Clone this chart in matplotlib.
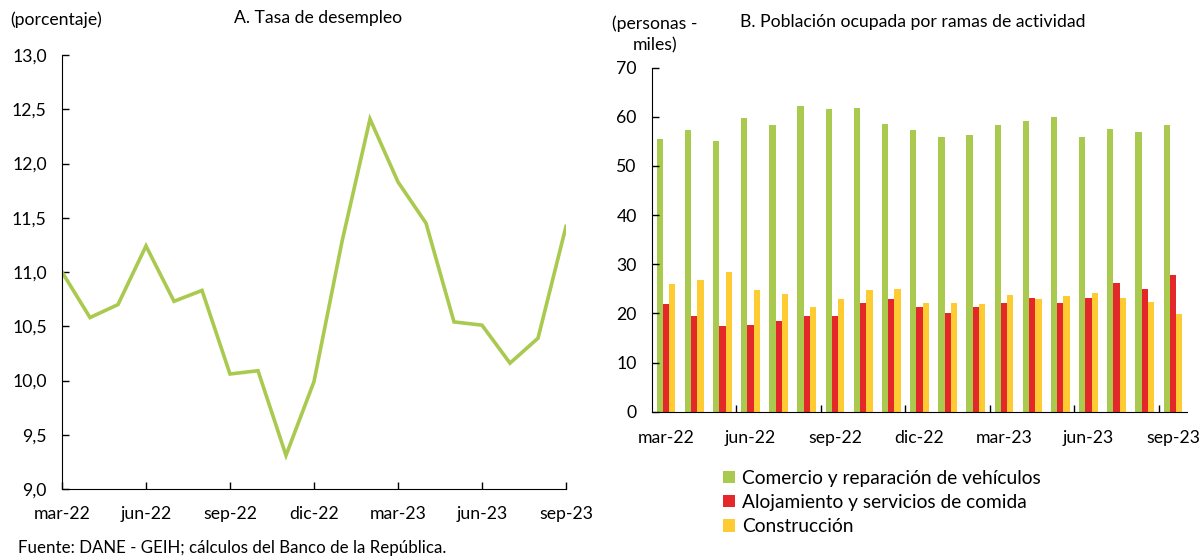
import matplotlib
matplotlib.use("Agg")
import matplotlib.pyplot as plt
from matplotlib.patches import Patch

# meses mar-22 .. sep-23
months = ["mar-22", "abr-22", "may-22", "jun-22", "jul-22", "ago-22", "sep-22",
          "oct-22", "nov-22", "dic-22", "ene-23", "feb-23", "mar-23", "abr-23",
          "may-23", "jun-23", "jul-23", "ago-23", "sep-23"]

# A. Tasa de desempleo (porcentaje)
desempleo = [11.00, 10.58, 10.70, 11.24, 10.73, 10.83, 10.06, 10.09, 9.31, 9.99,
             11.28, 12.41, 11.83, 11.45, 10.54, 10.51, 10.16, 10.39, 11.42]

# B. Poblacion ocupada por ramas de actividad (personas - miles)
comercio = [55.5, 57.4, 55.0, 59.7, 58.4, 62.2, 61.5, 61.8, 58.6, 57.4,
            56.0, 56.3, 58.4, 59.2, 59.9, 56.0, 57.6, 57.0, 58.4]
alojamiento = [21.9, 19.5, 17.4, 17.7, 18.5, 19.5, 19.5, 22.1, 22.9, 21.4,
               20.1, 21.4, 22.1, 23.2, 22.1, 23.2, 26.1, 25.0, 27.9]
construccion = [25.9, 26.9, 28.5, 24.8, 24.0, 21.4, 22.9, 24.8, 25.0, 22.1,
                22.1, 21.9, 23.7, 22.9, 23.5, 24.2, 23.2, 22.4, 19.8]

series_labels = ["Comercio y reparación de vehículos",
                 "Alojamiento y servicios de comida",
                 "Construcción"]
colors = ["#a9c94f", "#e4282a", "#ffcb33"]

plt.rcParams["font.family"] = ["Lato", "DejaVu Sans"]
FS = 12.7

W, H = 1201, 557
fig = plt.figure(figsize=(W / 100, H / 100), dpi=100)

tick_idx = list(range(0, len(months), 3))
tick_lbl = [months[i] for i in tick_idx]

# ---- panel A
ax1 = fig.add_axes([62 / W, 1 - 489 / H, 504 / W, 434 / H])
x = list(range(len(months)))
ax1.plot(x, desempleo, color="#a9c94f", linewidth=2.6, solid_joinstyle="miter")
ax1.set_xlim(0, len(months) - 1)
ax1.set_ylim(9.0, 13.0)
ax1.set_yticks([9.0, 9.5, 10.0, 10.5, 11.0, 11.5, 12.0, 12.5, 13.0])
ax1.set_yticklabels([f"{v:.1f}".replace(".", ",") for v in ax1.get_yticks()])
ax1.set_xticks(tick_idx)
ax1.set_xticklabels(tick_lbl)
for s in ["top", "right"]:
    ax1.spines[s].set_visible(False)
ax1.tick_params(axis="both", direction="in", length=5, width=1, labelsize=FS)
ax1.tick_params(axis="y", pad=11)
ax1.tick_params(axis="x", pad=12)

# ---- panel B
ax2 = fig.add_axes([652 / W, 1 - 411.7 / H, 535 / W, 344 / H])
bw = 0.223
for k, (vals, c) in enumerate(zip([comercio, alojamiento, construccion], colors)):
    ax2.bar([i + (k - 1) * bw for i in x], vals, width=bw, color=c, linewidth=0)
ax2.set_xlim(-0.5, len(months) - 0.5)
ax2.set_ylim(0, 70)
ax2.set_yticks(range(0, 71, 10))
ax2.set_xticks([i + 0.5 for i in range(2, len(months) - 1, 3)])
ax2.set_xticklabels([])
ax2.set_xticks(tick_idx, minor=True)
ax2.set_xticklabels(tick_lbl, minor=True)
for s in ["top", "right"]:
    ax2.spines[s].set_visible(False)
ax2.tick_params(axis="both", direction="in", length=5, width=1, labelsize=FS)
ax2.tick_params(axis="x", which="minor", length=0, pad=13, labelsize=FS)
ax2.tick_params(axis="y", pad=11)

handles = [Patch(facecolor=c, edgecolor="none") for c in colors]
fig.legend(handles, series_labels, loc="upper left",
           bbox_to_anchor=(723 / W, 1 - 470 / H), frameon=False,
           fontsize=13.8, handlelength=0.6, handleheight=0.6,
           handletextpad=0.4, labelspacing=0.37, borderpad=0, borderaxespad=0)

# ---- textos
fig.text(10 / W, 1 - 20 / H, "(porcentaje)", fontsize=FS, va="center", ha="left")
fig.text(318 / W, 1 - 18 / H, "A. Tasa de desempleo", fontsize=FS, va="center", ha="center")
fig.text(655 / W, 1 - 34 / H, "(personas -\nmiles)", fontsize=FS, va="center",
         ha="center", multialignment="center", linespacing=1.4)
fig.text(740 / W, 1 - 22 / H, "B. Población ocupada por ramas de actividad",
         fontsize=FS, va="center", ha="left")
fig.text(18 / W, 1 - 548 / H, "Fuente: DANE - GEIH; cálculos del Banco de la República.",
         fontsize=12.2, va="center", ha="left")

fig.savefig("out.png", dpi=100)
